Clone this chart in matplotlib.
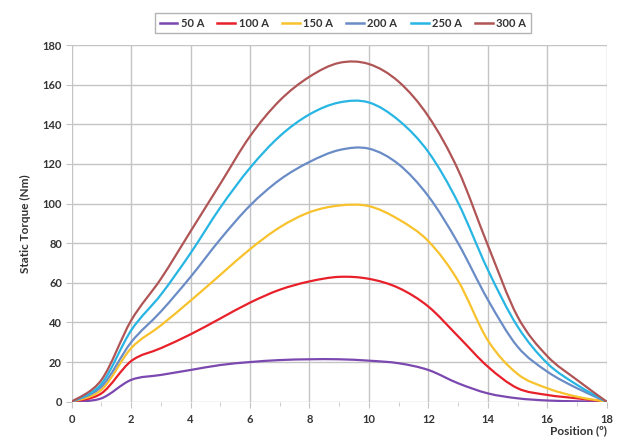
import numpy as np
import matplotlib
matplotlib.use("Agg")
import matplotlib.pyplot as plt
from matplotlib.path import Path
from matplotlib.patches import PathPatch
from matplotlib.lines import Line2D

# position (degrees)
position = list(range(0, 19))

# static torque (Nm) per current, read at each integer position
torque_50 = [0, 1.7, 11, 13.5, 16, 18.5, 20, 21, 21.4, 21.4, 20.7, 19.4, 16, 9.3, 4.2, 1.7, 0.6, 0.2, 0]
torque_100 = [0, 4.2, 20.5, 27, 34, 42, 50, 56.5, 60.7, 63, 62, 57.4, 48, 33, 17.7, 6.8, 3.4, 1.7, 0]
torque_150 = [0, 6, 27, 38.5, 51, 64, 77, 88, 95.6, 99, 98.7, 92, 81, 61, 31, 14, 6.8, 2.5, 0]
torque_200 = [0, 7.6, 30, 45.5, 63, 82, 99, 112, 121, 127, 127.7, 119.8, 103.7, 80, 51.5, 27.8, 15.2, 6.8, 0]
torque_250 = [0, 9, 36, 54, 75, 98, 118, 134, 145, 151, 151, 142, 126, 100.4, 66.6, 38, 19.4, 8.5, 0]
torque_300 = [0, 11, 41, 62, 86, 110, 134, 152, 164, 171, 170.4, 161.5, 144, 117, 79, 43, 23, 11, 0]

labels = ["50 A", "100 A", "150 A", "200 A", "250 A", "300 A"]
colors = ["#7B48B0", "#E8202A", "#F8C22C", "#6A8CC6", "#27B5E3", "#B05556"]
series = [torque_50, torque_100, torque_150, torque_200, torque_250, torque_300]

plt.rcParams["font.family"] = ["Lato", "DejaVu Sans"]
plt.rcParams["font.weight"] = "bold"


def smooth_path(x, y):
    # Excel-like smoothed line: Catmull-Rom segments as cubic Bezier curves
    p = np.column_stack([x, y]).astype(float)
    ext = np.vstack([p[0], p, p[-1]])
    verts = [p[0]]
    codes = [Path.MOVETO]
    for i in range(len(p) - 1):
        p0, p1, p2, p3 = ext[i], ext[i + 1], ext[i + 2], ext[i + 3]
        verts += [p1 + (p2 - p0) / 6, p2 - (p3 - p1) / 6, p2]
        codes += [Path.CURVE4] * 3
    return Path(verts, codes)


fig = plt.figure(figsize=(6.27, 4.44), dpi=100)
ax = fig.add_axes([0.1144, 0.0953, 0.8532, 0.8033])

handles = []
for lab, col, s in zip(labels, colors, series):
    ax.add_patch(PathPatch(smooth_path(position, s), fill=False, edgecolor=col,
                           lw=1.6, capstyle="round", joinstyle="round", zorder=3))
    handles.append(Line2D([], [], color=col, lw=1.8))

ax.set_xlim(0, 18)
ax.set_ylim(0, 180)
ax.set_xticks(range(0, 19, 2))
ax.set_xticks(range(1, 18, 2), minor=True)
ax.set_yticks(range(0, 181, 20))
ax.grid(True, color="#c4c4c4", lw=1.0)
ax.set_axisbelow(True)
for sp in ax.spines.values():
    sp.set_visible(False)
ax.tick_params(axis="both", which="major", length=4, color="#c4c4c4",
               labelsize=8, labelcolor="#333333", pad=3)
ax.tick_params(axis="x", which="minor", length=3, color="#c4c4c4")
ax.tick_params(axis="x", which="major", pad=5)

ax.set_ylabel("Static Torque (Nm)", fontsize=8.5, fontweight="bold", color="#333333", labelpad=8)
fig.text(0.9676, 0.018, "Position (º)", ha="right", va="bottom", fontsize=8.5,
         fontweight="bold", color="#333333")

leg = fig.legend(handles, labels, loc="center", bbox_to_anchor=(0.547, 0.948), ncol=6,
                 fontsize=8, frameon=True, fancybox=False, edgecolor="#a0a0a0",
                 handlelength=1.6, handletextpad=0.3, columnspacing=1.2,
                 borderpad=0.4)
leg.get_frame().set_linewidth(1.0)
for t in leg.get_texts():
    t.set_color("#333333")

fig.savefig("out.png", dpi=100)
